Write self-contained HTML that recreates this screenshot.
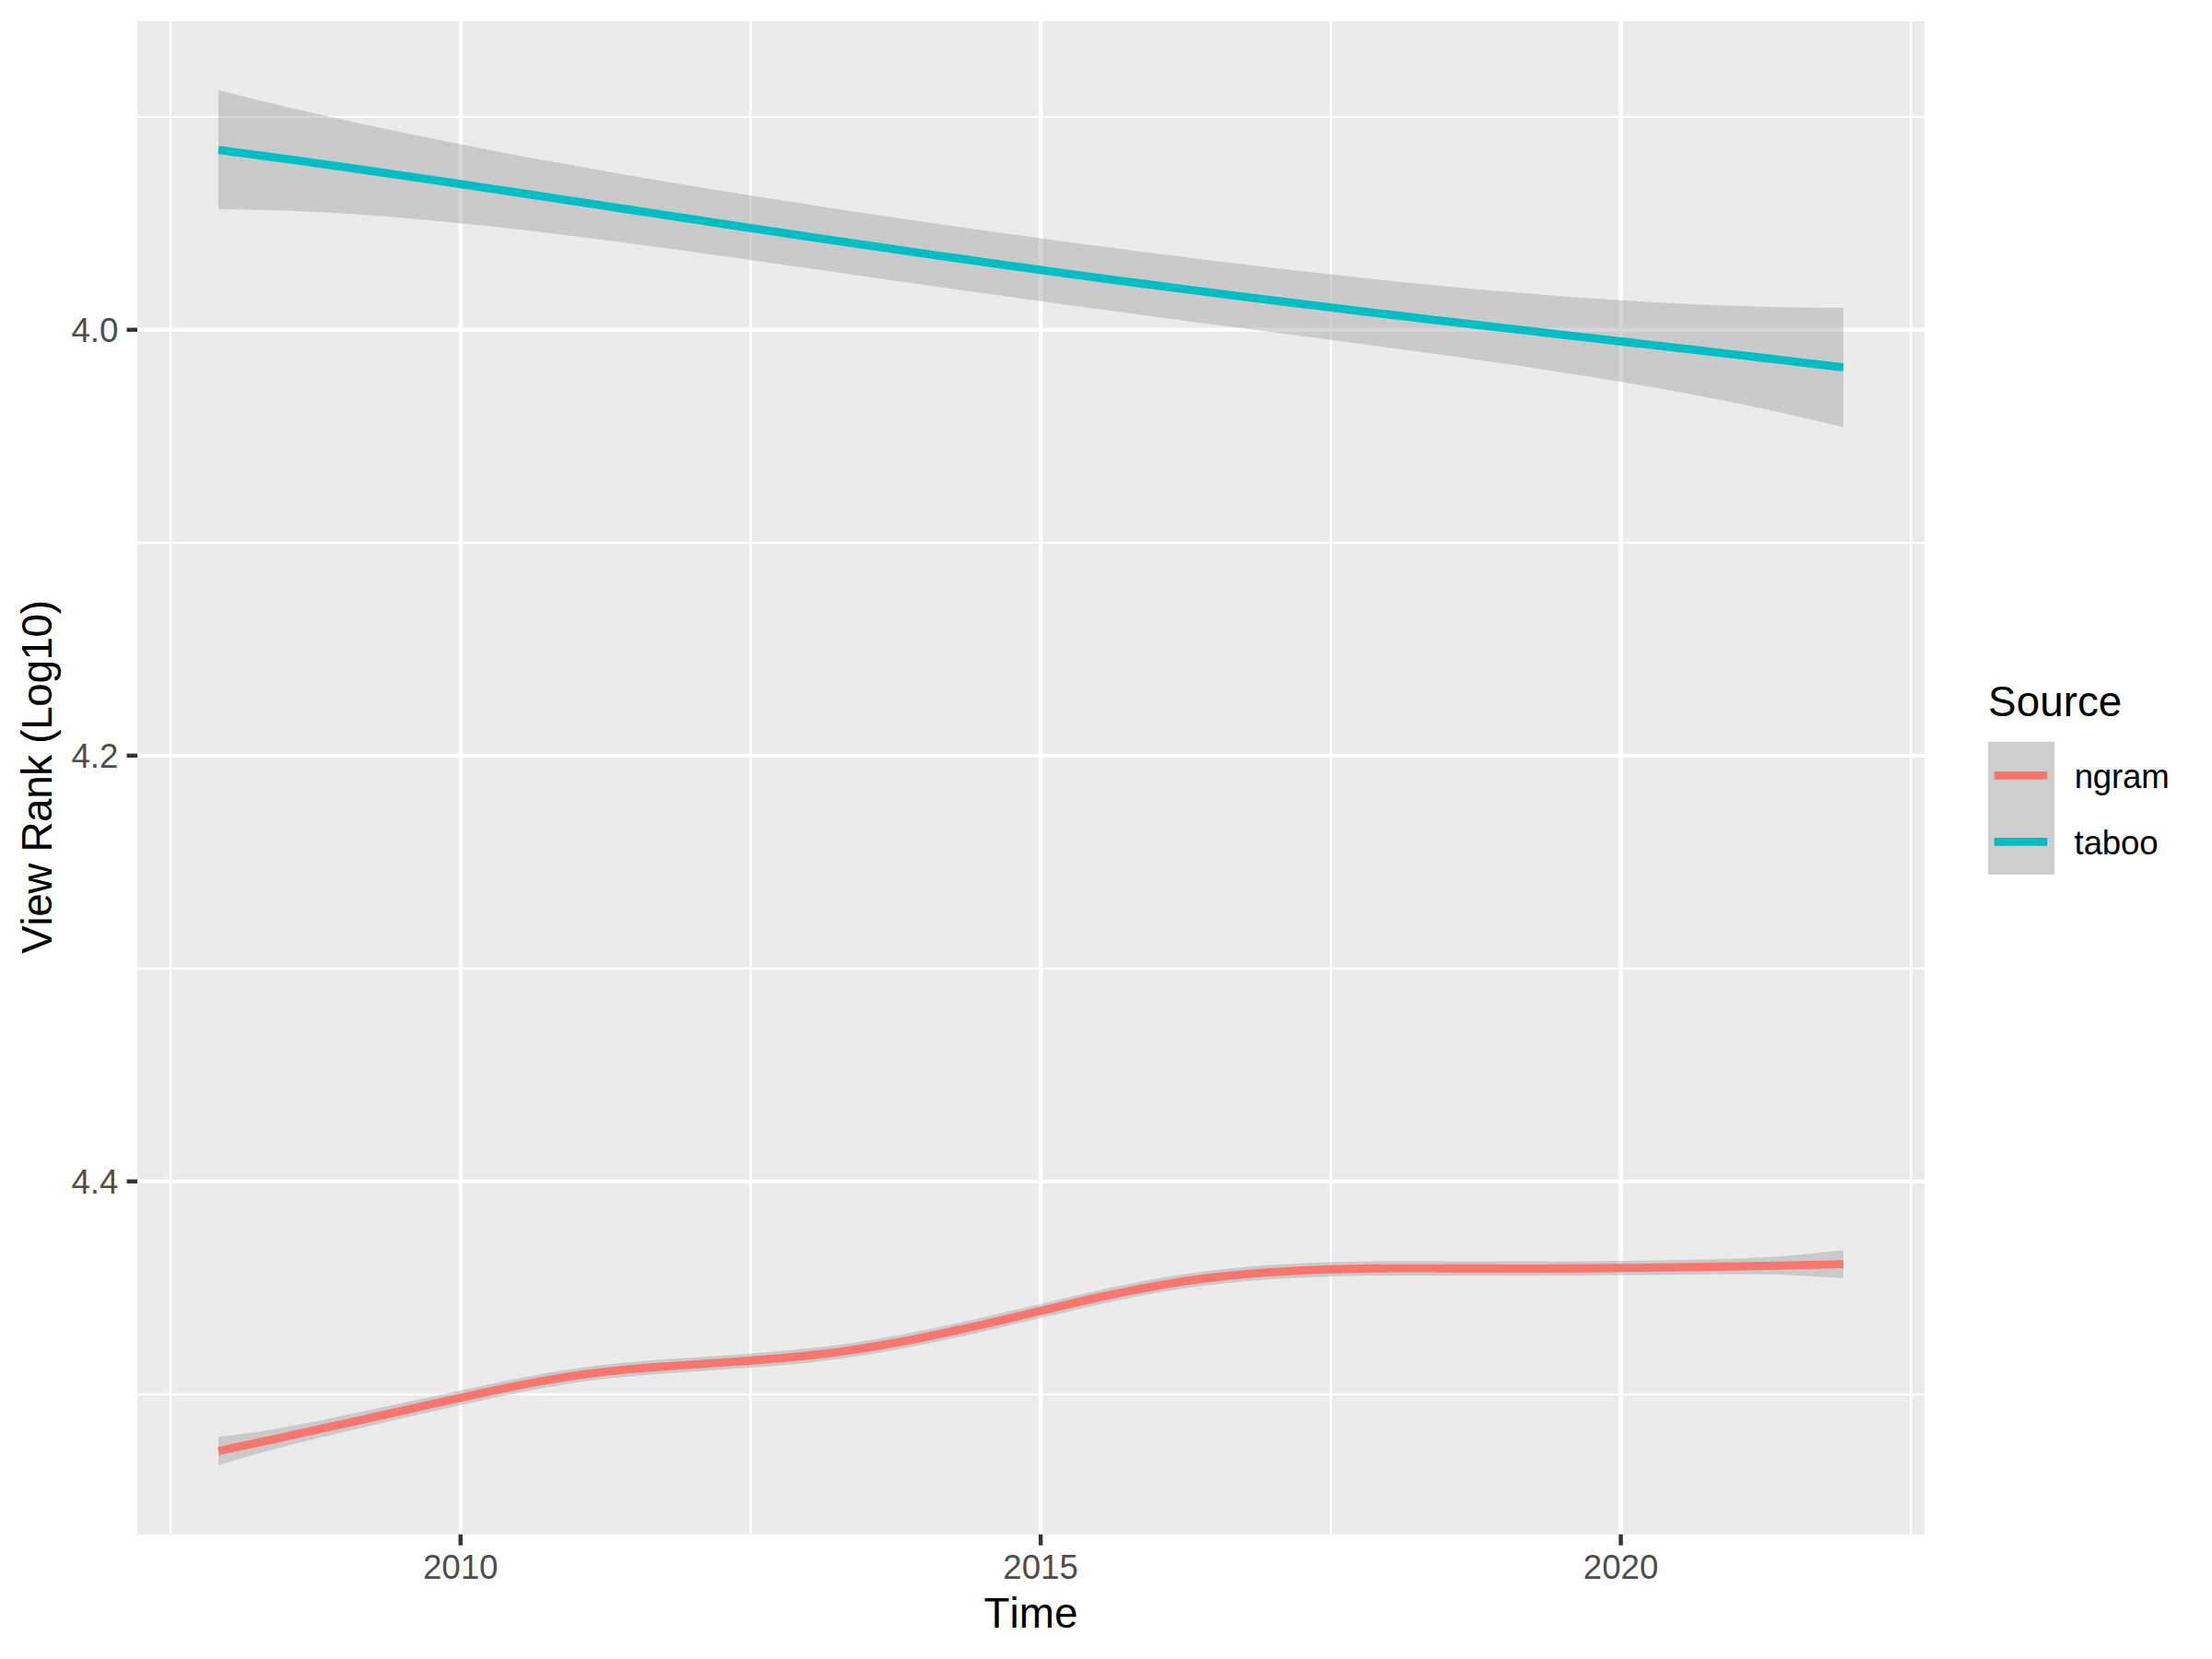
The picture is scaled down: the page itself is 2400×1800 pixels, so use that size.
<!DOCTYPE html>
<html lang="en"><head><meta charset="utf-8"><title>View Rank over Time</title>
<style>
html,body{margin:0;padding:0;background:#fff;}
body{width:2400px;height:1800px;overflow:hidden;}
svg{display:block;}
text{font-family:"Liberation Sans",Arial,Helvetica,sans-serif;font-kerning:none;}
.ax{font-size:36.67px;fill:#4D4D4D;}
.ti{font-size:45.83px;fill:#000;}
.lg{font-size:36.67px;fill:#000;}
</style></head><body>
<svg width="2400" height="1800" viewBox="0 0 2400 1800">
<rect width="2400" height="1800" fill="#FFFFFF"/>
<rect x="149.0" y="23.0" width="1939.0" height="1641.8" fill="#EBEBEB"/>
<g stroke="#FFFFFF" stroke-width="2.22" fill="none">
<line x1="149.0" x2="2088.0" y1="126.85" y2="126.85"/>
<line x1="149.0" x2="2088.0" y1="588.85" y2="588.85"/>
<line x1="149.0" x2="2088.0" y1="1050.85" y2="1050.85"/>
<line x1="149.0" x2="2088.0" y1="1512.85" y2="1512.85"/>
<line y1="23.0" y2="1664.8" x1="184.95" x2="184.95"/>
<line y1="23.0" y2="1664.8" x1="814.40" x2="814.40"/>
<line y1="23.0" y2="1664.8" x1="1443.85" x2="1443.85"/>
<line y1="23.0" y2="1664.8" x1="2073.30" x2="2073.30"/>
</g><g stroke="#FFFFFF" stroke-width="4.45" fill="none">
<line x1="149.0" x2="2088.0" y1="357.85" y2="357.85"/>
<line x1="149.0" x2="2088.0" y1="819.85" y2="819.85"/>
<line x1="149.0" x2="2088.0" y1="1281.85" y2="1281.85"/>
<line y1="23.0" y2="1664.8" x1="499.68" x2="499.68"/>
<line y1="23.0" y2="1664.8" x1="1129.12" x2="1129.12"/>
<line y1="23.0" y2="1664.8" x1="1758.58" x2="1758.58"/>
</g>
<polygon fill="#999999" fill-opacity="0.4" points="237.0,1559.0 259.3,1556.3 281.6,1553.2 303.9,1549.4 326.3,1545.3 348.6,1540.9 370.9,1536.3 393.2,1531.6 415.5,1526.8 437.8,1522.0 460.2,1517.2 482.5,1512.4 504.8,1507.6 527.1,1502.8 549.4,1498.1 571.7,1493.7 594.1,1489.6 616.4,1486.0 638.7,1482.8 661.0,1480.2 683.3,1478.0 705.6,1476.1 728.0,1474.4 750.3,1472.9 772.6,1471.4 794.9,1469.9 817.2,1468.3 839.5,1466.6 861.9,1464.6 884.2,1462.3 906.5,1459.6 928.8,1456.4 951.1,1452.8 973.4,1448.9 995.8,1444.6 1018.1,1440.0 1040.4,1435.2 1062.7,1430.2 1085.0,1425.1 1107.3,1419.8 1129.7,1414.5 1152.0,1409.2 1174.3,1404.0 1196.6,1399.0 1218.9,1394.2 1241.2,1389.8 1263.6,1385.8 1285.9,1382.3 1308.2,1379.3 1330.5,1376.7 1352.8,1374.6 1375.1,1372.8 1397.5,1371.4 1419.8,1370.3 1442.1,1369.5 1464.4,1368.9 1486.7,1368.5 1509.0,1368.3 1531.4,1368.3 1553.7,1368.3 1576.0,1368.4 1598.3,1368.5 1620.6,1368.5 1642.9,1368.6 1665.3,1368.6 1687.6,1368.5 1709.9,1368.4 1732.2,1368.2 1754.5,1368.0 1776.8,1367.8 1799.2,1367.5 1821.5,1367.1 1843.8,1366.7 1866.1,1366.2 1888.4,1365.5 1910.7,1364.4 1933.1,1363.1 1955.4,1361.0 1977.7,1358.8 2000.0,1356.4 2000.0,1386.8 1977.7,1385.4 1955.4,1384.2 1933.1,1383.1 1910.7,1382.6 1888.4,1382.4 1866.1,1382.5 1843.8,1382.7 1821.5,1383.0 1799.2,1383.2 1776.8,1383.4 1754.5,1383.6 1732.2,1383.8 1709.9,1384.0 1687.6,1384.1 1665.3,1384.2 1642.9,1384.2 1620.6,1384.1 1598.3,1384.1 1576.0,1384.0 1553.7,1383.9 1531.4,1383.9 1509.0,1383.9 1486.7,1384.1 1464.4,1384.5 1442.1,1385.1 1419.8,1385.9 1397.5,1387.0 1375.1,1388.4 1352.8,1390.1 1330.5,1392.3 1308.2,1394.8 1285.9,1397.8 1263.6,1401.3 1241.2,1405.3 1218.9,1409.7 1196.6,1414.5 1174.3,1419.5 1152.0,1424.7 1129.7,1429.9 1107.3,1435.3 1085.0,1440.5 1062.7,1445.7 1040.4,1450.6 1018.1,1455.4 995.8,1460.0 973.4,1464.3 951.1,1468.2 928.8,1471.8 906.5,1475.0 884.2,1477.7 861.9,1480.0 839.5,1482.0 817.2,1483.7 794.9,1485.3 772.6,1486.8 750.3,1488.3 728.0,1489.8 705.6,1491.5 683.3,1493.4 661.0,1495.6 638.7,1498.3 616.4,1501.4 594.1,1505.2 571.7,1509.3 549.4,1513.8 527.1,1518.5 504.8,1523.4 482.5,1528.4 460.2,1533.5 437.8,1538.6 415.5,1543.8 393.2,1549.0 370.9,1554.2 348.6,1559.6 326.3,1565.1 303.9,1570.7 281.6,1576.6 259.3,1583.0 237.0,1589.8"/>
<polyline fill="none" stroke="#F8766D" stroke-width="8.89" stroke-linejoin="round" stroke-linecap="butt" points="237.0,1574.4 259.3,1569.7 281.6,1564.9 303.9,1560.1 326.3,1555.2 348.6,1550.2 370.9,1545.3 393.2,1540.3 415.5,1535.3 437.8,1530.3 460.2,1525.3 482.5,1520.4 504.8,1515.5 527.1,1510.6 549.4,1505.9 571.7,1501.5 594.1,1497.4 616.4,1493.7 638.7,1490.5 661.0,1487.9 683.3,1485.7 705.6,1483.8 728.0,1482.1 750.3,1480.6 772.6,1479.1 794.9,1477.6 817.2,1476.0 839.5,1474.3 861.9,1472.3 884.2,1470.0 906.5,1467.3 928.8,1464.1 951.1,1460.5 973.4,1456.6 995.8,1452.3 1018.1,1447.7 1040.4,1442.9 1062.7,1438.0 1085.0,1432.8 1107.3,1427.5 1129.7,1422.2 1152.0,1416.9 1174.3,1411.7 1196.6,1406.7 1218.9,1402.0 1241.2,1397.6 1263.6,1393.6 1285.9,1390.0 1308.2,1387.0 1330.5,1384.5 1352.8,1382.3 1375.1,1380.6 1397.5,1379.2 1419.8,1378.1 1442.1,1377.3 1464.4,1376.7 1486.7,1376.3 1509.0,1376.1 1531.4,1376.1 1553.7,1376.1 1576.0,1376.2 1598.3,1376.3 1620.6,1376.3 1642.9,1376.4 1665.3,1376.4 1687.6,1376.3 1709.9,1376.2 1732.2,1376.0 1754.5,1375.8 1776.8,1375.6 1799.2,1375.3 1821.5,1375.0 1843.8,1374.7 1866.1,1374.3 1888.4,1374.0 1910.7,1373.5 1933.1,1373.1 1955.4,1372.6 1977.7,1372.1 2000.0,1371.6"/>
<polygon fill="#999999" fill-opacity="0.4" points="237.0,97.8 259.3,103.4 281.6,108.9 303.9,114.3 326.3,119.5 348.6,124.6 370.9,129.6 393.2,134.5 415.5,139.3 437.8,144.0 460.2,148.6 482.5,153.1 504.8,157.6 527.1,161.9 549.4,166.2 571.7,170.4 594.1,174.5 616.4,178.6 638.7,182.6 661.0,186.5 683.3,190.4 705.6,194.2 728.0,198.0 750.3,201.7 772.6,205.4 794.9,209.0 817.2,212.6 839.5,216.1 861.9,219.6 884.2,223.1 906.5,226.5 928.8,229.9 951.1,233.2 973.4,236.5 995.8,239.8 1018.1,243.0 1040.4,246.2 1062.7,249.4 1085.0,252.5 1107.3,255.6 1129.7,258.7 1152.0,261.7 1174.3,264.7 1196.6,267.6 1218.9,270.6 1241.2,273.5 1263.6,276.3 1285.9,279.1 1308.2,281.9 1330.5,284.6 1352.8,287.3 1375.1,289.9 1397.5,292.5 1419.8,295.1 1442.1,297.6 1464.4,300.0 1486.7,302.4 1509.0,304.7 1531.4,307.0 1553.7,309.2 1576.0,311.3 1598.3,313.4 1620.6,315.4 1642.9,317.3 1665.3,319.1 1687.6,320.9 1709.9,322.5 1732.2,324.1 1754.5,325.6 1776.8,326.9 1799.2,328.2 1821.5,329.3 1843.8,330.4 1866.1,331.3 1888.4,332.1 1910.7,332.7 1933.1,333.2 1955.4,333.6 1977.7,333.9 2000.0,333.9 2000.0,463.6 1977.7,458.1 1955.4,452.9 1933.1,447.8 1910.7,443.0 1888.4,438.3 1866.1,433.8 1843.8,429.5 1821.5,425.3 1799.2,421.3 1776.8,417.4 1754.5,413.6 1732.2,409.9 1709.9,406.3 1687.6,402.9 1665.3,399.5 1642.9,396.1 1620.6,392.9 1598.3,389.7 1576.0,386.6 1553.7,383.5 1531.4,380.4 1509.0,377.4 1486.7,374.4 1464.4,371.4 1442.1,368.5 1419.8,365.5 1397.5,362.6 1375.1,359.7 1352.8,356.7 1330.5,353.8 1308.2,350.9 1285.9,347.9 1263.6,344.9 1241.2,342.0 1218.9,339.0 1196.6,336.0 1174.3,332.9 1152.0,329.9 1129.7,326.8 1107.3,323.7 1085.0,320.6 1062.7,317.5 1040.4,314.4 1018.1,311.2 995.8,308.0 973.4,304.9 951.1,301.7 928.8,298.5 906.5,295.3 884.2,292.1 861.9,288.9 839.5,285.7 817.2,282.5 794.9,279.3 772.6,276.2 750.3,273.1 728.0,270.0 705.6,267.0 683.3,264.0 661.0,261.1 638.7,258.2 616.4,255.4 594.1,252.7 571.7,250.0 549.4,247.5 527.1,245.0 504.8,242.7 482.5,240.4 460.2,238.4 437.8,236.4 415.5,234.6 393.2,233.0 370.9,231.5 348.6,230.3 326.3,229.2 303.9,228.3 281.6,227.7 259.3,227.3 237.0,227.1"/>
<polyline fill="none" stroke="#00BFC4" stroke-width="8.89" stroke-linejoin="round" stroke-linecap="butt" points="237.0,162.7 259.3,165.6 281.6,168.6 303.9,171.6 326.3,174.7 348.6,177.8 370.9,180.9 393.2,184.1 415.5,187.3 437.8,190.6 460.2,193.8 482.5,197.1 504.8,200.5 527.1,203.8 549.4,207.2 571.7,210.5 594.1,213.9 616.4,217.3 638.7,220.7 661.0,224.1 683.3,227.5 705.6,230.9 728.0,234.3 750.3,237.7 772.6,241.1 794.9,244.5 817.2,247.8 839.5,251.2 861.9,254.5 884.2,257.8 906.5,261.1 928.8,264.4 951.1,267.7 973.4,270.9 995.8,274.2 1018.1,277.4 1040.4,280.5 1062.7,283.7 1085.0,286.8 1107.3,289.9 1129.7,293.0 1152.0,296.1 1174.3,299.1 1196.6,302.1 1218.9,305.1 1241.2,308.0 1263.6,310.9 1285.9,313.8 1308.2,316.7 1330.5,319.6 1352.8,322.4 1375.1,325.2 1397.5,328.0 1419.8,330.7 1442.1,333.4 1464.4,336.1 1486.7,338.8 1509.0,341.5 1531.4,344.1 1553.7,346.8 1576.0,349.4 1598.3,352.0 1620.6,354.6 1642.9,357.2 1665.3,359.7 1687.6,362.3 1709.9,364.9 1732.2,367.4 1754.5,370.0 1776.8,372.5 1799.2,375.1 1821.5,377.6 1843.8,380.2 1866.1,382.8 1888.4,385.4 1910.7,388.0 1933.1,390.6 1955.4,393.3 1977.7,396.0 2000.0,398.7"/>
<g stroke="#333333" stroke-width="4.45" fill="none">
<line x1="137.54" x2="149.0" y1="357.85" y2="357.85"/>
<line x1="137.54" x2="149.0" y1="819.85" y2="819.85"/>
<line x1="137.54" x2="149.0" y1="1281.85" y2="1281.85"/>
<line y1="1664.8" y2="1676.70" x1="499.68" x2="499.68"/>
<line y1="1664.8" y2="1676.70" x1="1129.12" x2="1129.12"/>
<line y1="1664.8" y2="1676.70" x1="1758.58" x2="1758.58"/>
</g>
<text class="ax" text-anchor="end" x="128.4" y="370.85">4.0</text>
<text class="ax" text-anchor="end" x="128.4" y="832.85">4.2</text>
<text class="ax" text-anchor="end" x="128.4" y="1294.85">4.4</text>
<text class="ax" text-anchor="middle" x="499.68" y="1712.8">2010</text>
<text class="ax" text-anchor="middle" x="1129.12" y="1712.8">2015</text>
<text class="ax" text-anchor="middle" x="1758.58" y="1712.8">2020</text>
<text class="ti" text-anchor="middle" x="1118.50" y="1766">Time</text>
<text class="ti" text-anchor="middle" letter-spacing="-0.37" transform="translate(56.2,843.10) rotate(-90)">View Rank (Log10)</text>
<text class="ti" x="2157.1" y="777.4">Source</text>
<rect x="2157.1" y="804.9" width="72" height="144" fill="#F2F2F2"/>
<rect x="2157.1" y="804.9" width="72" height="144" fill="#999999" fill-opacity="0.4"/>
<line x1="2163.70" x2="2221.30" y1="841.40" y2="841.40" stroke="#F8766D" stroke-width="8.89"/>
<line x1="2163.70" x2="2221.30" y1="913.40" y2="913.40" stroke="#00BFC4" stroke-width="8.89"/>
<text class="lg" letter-spacing="-0.2" x="2250.70" y="855.0">ngram</text>
<text class="lg" letter-spacing="-0.15" x="2250.60" y="926.8">taboo</text>
</svg></body></html>
